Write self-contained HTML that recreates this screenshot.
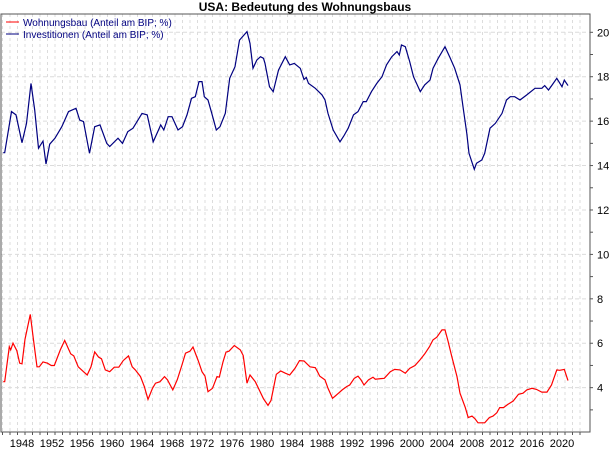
<!DOCTYPE html>
<html><head><meta charset="utf-8"><style>
body{margin:0;background:#fff;font-family:"Liberation Sans",sans-serif;}
svg text{font-family:"Liberation Sans",sans-serif;}
</style></head><body>
<svg id="chart" width="610" height="450" xmlns="http://www.w3.org/2000/svg">
<rect width="610" height="450" fill="#fff"/>
<g id="grid"></g>
<g id="axes"></g>
<g id="series"></g>
<text x="305" y="11" text-anchor="middle" font-size="12" font-weight="bold">USA: Bedeutung des Wohnungsbaus</text>
<g>
<g><line x1="6" y1="22" x2="19" y2="22" stroke="#ff0000" stroke-width="1"/><text x="23" y="26" font-size="10" fill="#000080">Wohnungsbau (Anteil am BIP; %)</text></g>
<g><line x1="6" y1="34" x2="19" y2="34" stroke="#000080" stroke-width="1"/><text x="23" y="38" font-size="10" fill="#000080">Investitionen (Anteil am BIP; %)</text></g>
</g>
</svg>
<script>
const invYears=[1947.1,1947.3,1948.2,1948.8,1949.6,1950.2,1950.8,1951.3,1951.8,1952.4,1952.8,1953.3,1954,1954.9,1955.8,1956.8,1957.3,1957.8,1958.6,1959.3,1960,1960.9,1961.3,1962.4,1963,1963.7,1964.4,1965.6,1966.3,1967.1,1967.8,1968.1,1968.5,1969.1,1969.6,1970.4,1971,1971.6,1972.2,1972.7,1973.2,1973.6,1973.9,1974.4,1974.9,1975.5,1976,1976.7,1977.3,1978,1978.6,1979.6,1980,1980.4,1980.9,1981.4,1981.8,1982.0,1982.6,1983.1,1983.8,1984.7,1985.3,1985.9,1986.7,1987.2,1987.5,1987.8,1988.7,1989.6,1990,1990.4,1991.1,1992,1992.5,1993.1,1993.8,1994.4,1995.1,1995.5,1996.2,1996.9,1997.6,1998.2,1998.9,1999.6,1999.9,2000.2,2000.7,2001.3,2001.8,2002.7,2003.3,2004,2004.4,2005.1,2006,2006.7,2007.3,2008,2008.4,2008.9,2009.2,2009.9,2010.2,2010.9,2011.3,2012,2012.7,2013.6,2014.2,2014.7,2015.3,2016,2016.9,2018,2018.9,2019.3,2019.8,2020.3,2020.9,2021.6,2021.9,2022.4];
const invValues=[14.58,14.58,16.43,16.28,15.03,15.9,17.7,16.5,14.78,15.1,14.07,14.96,15.23,15.75,16.43,16.58,16.05,15.98,14.55,15.75,15.83,15.0,14.86,15.23,15.0,15.53,15.68,16.35,16.28,15.07,15.6,15.83,15.6,16.2,16.2,15.6,15.75,16.28,17.03,17.1,17.78,17.78,17.1,16.95,16.35,15.6,15.75,16.35,17.93,18.45,19.65,20.03,19.5,18.38,18.75,18.9,18.83,18.6,17.55,17.33,18.3,18.9,18.53,18.6,18.38,17.88,17.97,17.7,17.48,17.18,16.95,16.35,15.6,15.07,15.33,15.68,16.28,16.43,16.88,16.88,17.33,17.7,18.0,18.53,18.9,19.13,18.98,19.43,19.35,18.68,18.0,17.33,17.63,17.85,18.38,18.83,19.35,18.83,18.38,17.63,16.65,15.45,14.55,13.83,14.1,14.25,14.55,15.68,15.9,16.35,16.95,17.1,17.1,16.95,17.18,17.48,17.48,17.6,17.4,17.63,17.93,17.55,17.85,17.6];
const resYears=[1947.1,1947.3,1947.9,1948.1,1948.4,1948.9,1949.3,1949.6,1950,1950.7,1951.1,1951.6,1951.9,1952.4,1953,1953.5,1953.9,1954.7,1955.3,1956.1,1956.5,1957.1,1957.8,1958.3,1958.8,1959.3,1959.8,1960.2,1960.7,1961.3,1961.9,1962.5,1963.1,1963.8,1964.3,1964.7,1965.4,1965.9,1966.4,1967,1967.4,1968,1968.6,1969,1969.7,1970.3,1970.9,1971.4,1972,1972.4,1973.1,1973.6,1974,1974.4,1975,1975.6,1975.9,1976.4,1976.8,1977.2,1977.9,1978.7,1979.1,1979.6,1980,1980.7,1981.8,1982.4,1982.8,1983.5,1984.1,1984.7,1985.3,1986,1986.6,1987.2,1988,1988.7,1989,1989.3,1990,1990.4,1991,1991.3,1991.8,1992.3,1992.9,1993.3,1993.9,1994.4,1994.8,1995.2,1995.8,1996.4,1996.7,1997.9,1998.7,1999.3,2000,2000.7,2001.3,2002,2002.7,2003.3,2003.9,2004.4,2004.9,2005.6,2006,2006.4,2006.9,2007.6,2008,2008.7,2009.1,2009.6,2010,2010.4,2011.3,2011.9,2012.4,2012.9,2013.3,2013.8,2014.4,2015.1,2015.8,2016.4,2016.9,2017.6,2018.2,2018.9,2019.6,2020.2,2020.9,2021.3,2021.9,2022.4];
const resValues=[4.27,4.27,5.84,5.7,6.0,5.67,5.1,5.07,6.18,7.3,6.25,4.94,4.94,5.16,5.1,5.0,5.0,5.7,6.13,5.52,5.43,4.94,4.72,4.57,4.94,5.61,5.38,5.3,4.8,4.72,4.92,4.92,5.22,5.43,4.94,4.8,4.5,4.05,3.47,3.97,4.2,4.27,4.5,4.35,3.9,4.35,5.0,5.55,5.64,5.83,5.22,4.72,4.52,3.82,3.97,4.5,4.47,5.16,5.6,5.64,5.9,5.7,5.45,4.2,4.57,4.27,3.5,3.2,3.42,4.6,4.75,4.65,4.57,4.87,5.22,5.2,4.94,4.9,4.72,4.52,4.35,3.97,3.52,3.6,3.75,3.9,4.05,4.12,4.42,4.52,4.35,4.12,4.35,4.47,4.38,4.42,4.72,4.82,4.8,4.65,4.87,5.0,5.27,5.52,5.83,6.15,6.27,6.6,6.6,6.1,5.4,4.5,3.75,3.1,2.65,2.72,2.6,2.42,2.42,2.65,2.72,2.87,3.1,3.1,3.25,3.4,3.7,3.75,3.9,3.97,3.92,3.8,3.8,4.12,4.8,4.78,4.82,4.32];
const yTicks=[4,6,8,10,12,14,16,18,20];
const xTickLabels=[1948,1952,1956,1960,1964,1968,1972,1976,1980,1984,1988,1992,1996,2000,2004,2008,2012,2016,2020];

const NS="http://www.w3.org/2000/svg";
const L=1,R=590,T=14,B=432;
function xs(yr){return 10+(yr-1948)*7.5;}
function ys(v){return 32.3+(20-v)*22.21;}
function mk(tag,attrs,parent){const e=document.createElementNS(NS,tag);for(const k in attrs)e.setAttribute(k,attrs[k]);parent.appendChild(e);return e;}
const grid=document.getElementById('grid'),axes=document.getElementById('axes'),series=document.getElementById('series');
for(let yr=1947;yr<=2024;yr++){const x=xs(yr);if(x<=L||x>=R)continue;
 const g=mk('line',{x1:x,y1:T,x2:x,y2:B,stroke:'#dcdcdc','stroke-dasharray':'3,3'},grid);
 
 
 const t=mk('line',{x1:x,y1:B,x2:x,y2:B+3,stroke:'#555'},axes);
 
 }
for(let v=3;v<=20;v++){const y=ys(v);
 const t=mk('line',{x1:R,y1:y,x2:R+3,y2:y,stroke:'#555'},axes);
 
 }
yTicks.forEach(v=>{const y=ys(v);
 const g=mk('line',{x1:L,y1:y,x2:R,y2:y,stroke:'#dcdcdc','stroke-dasharray':'4,3'},grid);
 
 
 const t=mk('text',{x:597,y:y+4,'font-size':11},axes);t.textContent=v;
 
 });
xTickLabels.forEach(yr=>{const t=mk('text',{x:xs(yr)+12,y:447,'font-size':11,'text-anchor':'middle'},axes);t.textContent=yr;
 
 });
const frame=mk('rect',{x:L,y:T,width:R-L,height:B-T,fill:'none',stroke:'#555'},axes);


function line(xsA,vs,color,name){const d=xsA.map((yr,i)=>(i?'L':'M')+xs(yr).toFixed(1)+','+ys(vs[i]).toFixed(1)).join(' ');
 const p=mk('path',{d:d,fill:'none',stroke:color,'stroke-width':1.2},series);
 
 }
line(invYears,invValues,'#000080','investitionen-line');
line(resYears,resValues,'#ff0000','wohnungsbau-line');
</script>
</body></html>
